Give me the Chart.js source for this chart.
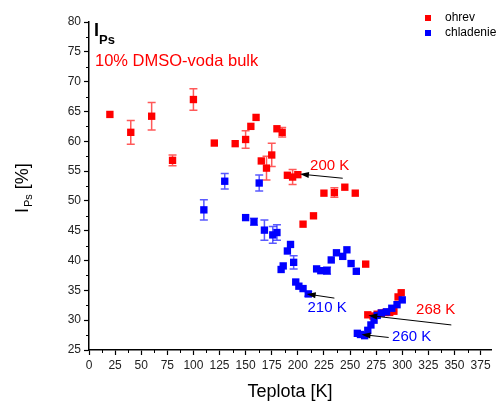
<!DOCTYPE html>
<html>
<head>
<meta charset="utf-8">
<script src="https://cdn.jsdelivr.net/npm/chart.js@4.4.0/dist/chart.umd.min.js"></script>
<style>
    html, body { margin: 0; padding: 0; background: #fff; }
    #wrap { width: 499px; height: 403px; }
</style>
</head>
<body>
<div id="wrap"><canvas id="chart" width="499" height="403"></canvas></div>
<script>
// ohrev (heating) - teplota [K], I_Ps [%], chyba
const ohrevT   = [20, 40, 60, 80, 100, 120, 140, 150, 155, 160, 165, 170, 175, 180, 185, 190, 195, 200, 205, 215, 225, 235, 245, 255, 265, 267, 272, 276, 280, 284, 288, 292, 296, 299];
const ohrevI   = [64.5, 61.5, 64.2, 56.8, 67.0, 59.7, 59.6, 60.3, 62.5, 64.0, 56.7, 55.5, 57.7, 62.1, 61.5, 54.3, 54.0, 54.4, 46.1, 47.5, 51.3, 51.4, 52.3, 51.3, 39.4, 30.9, 30.7, 31.0, 31.2, 31.3, 31.3, 31.5, 33.9, 34.6];
const ohrevErr = [0, 2.0, 2.3, 0.9, 1.8, 0, 0, 1.45, 0, 0, 0, 2.0, 1.95, 0, 0.8, 0, 1.25, 0, 0, 0, 0, 0.8, 0, 0, 0, 0, 0, 0, 0, 0, 0, 0, 0, 0];

// chladenie (cooling)
const chladT   = [110, 130, 150, 158, 163, 168, 176, 180, 184, 186, 190, 193, 196, 198, 201, 205, 210, 218, 222, 228, 232, 237, 243, 247, 251, 256, 257, 260, 264, 267, 270, 273, 276, 280, 285, 290, 295, 300];
const chladI   = [48.5, 53.3, 47.2, 46.5, 53.0, 45.1, 44.3, 44.7, 38.5, 39.1, 41.6, 42.7, 39.7, 36.4, 35.7, 35.3, 34.4, 38.6, 38.3, 38.3, 40.1, 41.3, 40.7, 41.8, 39.5, 38.2, 27.8, 27.6, 27.4, 28.3, 29.2, 30.0, 30.8, 31.2, 31.4, 32.0, 32.6, 33.4];
const chladErr = [1.7, 1.3, 0, 0.6, 1.35, 1.7, 1.4, 1.3, 0, 0, 0, 0, 1.1, 0, 0, 0, 0.4, 0, 0, 0.6, 0, 0, 0, 0, 0, 0, 0, 0, 0, 0, 0, 0, 0, 0, 0, 0, 0, 0];

const xTicks = [0, 25, 50, 75, 100, 125, 150, 175, 200, 225, 250, 275, 300, 325, 350, 375];
const yTicks = [25, 30, 35, 40, 45, 50, 55, 60, 65, 70, 75, 80];

const RED = '#ff0000';
const BLUE = '#0000ff';
const FONT = '"Liberation Sans", Arial, sans-serif';

// popisky s sipkami: text (stred), zaciatok ciary, hrot sipky
const callouts = [
    { text: '200 K', color: RED,  tx: 230.5, ty: 55.9, x0: 243, y0: 53.8, x1: 202, y1: 54.5 },
    { text: '210 K', color: BLUE, tx: 228,   ty: 32.0, x0: 235, y0: 33.7, x1: 208.5, y1: 34.4 },
    { text: '268 K', color: RED,  tx: 332,   ty: 31.8, x0: 347, y0: 29.2, x1: 267.5, y1: 30.8 },
    { text: '260 K', color: BLUE, tx: 309,   ty: 27.2, x0: 287, y0: 27.1, x1: 261, y1: 27.6 }
];

const toPoints = (xs, ys) => xs.map((x, i) => ({ x: x, y: ys[i] }));

// chybove useky + vedlajsie dieliky
const extrasPlugin = {
    id: 'extras',
    beforeDatasetsDraw(chart) {
        const ctx = chart.ctx;
        const xs = chart.scales.x, ys = chart.scales.y;
        const sets = [
            [ohrevT, ohrevI, ohrevErr, 'rgba(255,0,0,0.65)'],
            [chladT, chladI, chladErr, 'rgba(0,0,255,0.65)']
        ];
        ctx.save();
        ctx.lineWidth = 1.5;
        sets.forEach(([t, v, e, col]) => {
            ctx.strokeStyle = col;
            t.forEach((tt, i) => {
                if (!e[i]) return;
                const px = xs.getPixelForValue(tt);
                const top = ys.getPixelForValue(v[i] + e[i]);
                const bot = ys.getPixelForValue(v[i] - e[i]);
                ctx.beginPath();
                ctx.moveTo(px, top); ctx.lineTo(px, bot);
                ctx.moveTo(px - 4, top); ctx.lineTo(px + 4, top);
                ctx.moveTo(px - 4, bot); ctx.lineTo(px + 4, bot);
                ctx.stroke();
            });
        });
        ctx.restore();
    },
    afterDraw(chart) {
        const ctx = chart.ctx;
        const xs = chart.scales.x, ys = chart.scales.y;
        const area = chart.chartArea;
        ctx.save();

        // minor ticks
        ctx.strokeStyle = '#000';
        ctx.lineWidth = 1;
        ctx.beginPath();
        for (let v = 12.5; v < 385; v += 25) {
            const px = Math.round(xs.getPixelForValue(v)) + 0.5;
            ctx.moveTo(px, area.bottom); ctx.lineTo(px, area.bottom + 3);
        }
        for (let v = 27.5; v < 80; v += 5) {
            const py = Math.round(ys.getPixelForValue(v)) + 0.5;
            ctx.moveTo(area.left, py); ctx.lineTo(area.left - 3, py);
        }
        ctx.stroke();

        // callouts
        callouts.forEach(c => {
            const x0 = xs.getPixelForValue(c.x0), y0 = ys.getPixelForValue(c.y0);
            const x1 = xs.getPixelForValue(c.x1), y1 = ys.getPixelForValue(c.y1);
            const ang = Math.atan2(y1 - y0, x1 - x0);
            ctx.strokeStyle = '#000';
            ctx.fillStyle = '#000';
            ctx.lineWidth = 1;
            ctx.beginPath();
            ctx.moveTo(x0, y0); ctx.lineTo(x1 - 6 * Math.cos(ang), y1 - 6 * Math.sin(ang));
            ctx.stroke();
            ctx.beginPath();
            ctx.moveTo(x1, y1);
            ctx.lineTo(x1 - 9 * Math.cos(ang) + 3 * Math.sin(ang), y1 - 9 * Math.sin(ang) - 3 * Math.cos(ang));
            ctx.lineTo(x1 - 9 * Math.cos(ang) - 3 * Math.sin(ang), y1 - 9 * Math.sin(ang) + 3 * Math.cos(ang));
            ctx.closePath();
            ctx.fill();
            ctx.font = '15px ' + FONT;
            ctx.fillStyle = c.color;
            ctx.textAlign = 'center';
            ctx.textBaseline = 'middle';
            ctx.fillText(c.text, xs.getPixelForValue(c.tx), ys.getPixelForValue(c.ty));
        });

        // nadpis v grafe
        ctx.textAlign = 'left';
        ctx.textBaseline = 'alphabetic';
        ctx.fillStyle = '#000';
        ctx.font = 'bold 18px ' + FONT;
        ctx.fillText('I', 94, 36);
        ctx.font = 'bold 13px ' + FONT;
        ctx.fillText('Ps', 99, 44);
        ctx.fillStyle = RED;
        ctx.font = '16.5px ' + FONT;
        ctx.fillText('10% DMSO-voda bulk', 95, 66);

        // legenda
        ctx.font = '12px ' + FONT;
        ctx.textBaseline = 'middle';
        [['ohrev', RED, 18], ['chladenie', BLUE, 33]].forEach(([lbl, col, y]) => {
            ctx.fillStyle = col;
            ctx.fillRect(425, y - 3, 6, 6);
            ctx.fillStyle = '#000';
            ctx.fillText(lbl, 445, y);
        });

        // nazvy osi
        ctx.textBaseline = 'alphabetic';
        ctx.textAlign = 'center';
        ctx.font = '18px ' + FONT;
        ctx.fillText('Teplota [K]', 290, 397);

        ctx.translate(28, 213);
        ctx.rotate(-Math.PI / 2);
        ctx.textAlign = 'left';
        ctx.font = '18px ' + FONT;
        ctx.fillText('I', 0, 0);
        let w = ctx.measureText('I').width;
        ctx.font = '11px ' + FONT;
        ctx.fillText('Ps', w + 1, 4);
        w += 1 + ctx.measureText('Ps').width;
        ctx.font = '18px ' + FONT;
        ctx.fillText(' [%]', w, 0);
        ctx.restore();
    }
};

const tickFont = { family: FONT, size: 12 };

new Chart(document.getElementById('chart'), {
    type: 'scatter',
    data: {
        datasets: [
            {
                label: 'ohrev',
                data: toPoints(ohrevT, ohrevI),
                pointStyle: 'rect',
                pointRadius: 5.2,
                pointHoverRadius: 5.2,
                backgroundColor: RED,
                borderColor: RED,
                borderWidth: 0,
                order: 1
            },
            {
                label: 'chladenie',
                data: toPoints(chladT, chladI),
                pointStyle: 'rect',
                pointRadius: 5.2,
                pointHoverRadius: 5.2,
                backgroundColor: BLUE,
                borderColor: BLUE,
                borderWidth: 0,
                order: 0
            }
        ]
    },
    options: {
        responsive: false,
        animation: false,
        layout: { padding: { top: 22, right: 8, left: 0, bottom: 0 } },
        plugins: {
            legend: { display: false },
            tooltip: { enabled: false }
        },
        scales: {
            x: {
                type: 'linear',
                min: 0,
                max: 385,
                afterBuildTicks: s => { s.ticks = xTicks.map(v => ({ value: v })); },
                afterFit: s => { s.height = 53; },
                ticks: { font: tickFont, color: '#222', padding: 3, maxRotation: 0, autoSkip: false },
                grid: { drawOnChartArea: false, tickLength: 5, tickColor: '#000', tickWidth: 1.2 },
                border: { color: '#000', width: 1.5 }
            },
            y: {
                type: 'linear',
                min: 25,
                max: 80,
                afterBuildTicks: s => { s.ticks = yTicks.map(v => ({ value: v })); },
                afterFit: s => { s.width = 89; },
                ticks: { font: tickFont, color: '#222', padding: 3 },
                grid: { drawOnChartArea: false, tickLength: 5, tickColor: '#000', tickWidth: 1.2 },
                border: { color: '#000', width: 1.5 }
            }
        }
    },
    plugins: [extrasPlugin]
});
</script>
</body>
</html>
